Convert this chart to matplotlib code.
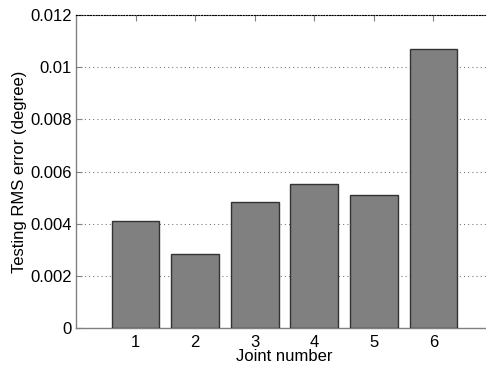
import matplotlib
matplotlib.use("Agg")
import matplotlib.pyplot as plt

joints = [1, 2, 3, 4, 5, 6]
rms_error = [0.00410, 0.00284, 0.00483, 0.00552, 0.00511, 0.01068]
yticks = [0, 0.002, 0.004, 0.006, 0.008, 0.010, 0.012]
ytick_labels = ["0", "0.002", "0.004", "0.006", "0.008", "0.01", "0.012"]

plt.rcParams['font.family'] = ['Liberation Sans', 'DejaVu Sans']

fig = plt.figure(figsize=(4.86, 3.67), dpi=100)
W, H = 486, 367
ax = fig.add_axes([76 / W, (H - 328) / H, 417 / W, 313 / H])

ax.bar(joints, rms_error, width=0.8, color="#808080", edgecolor="#333333", linewidth=1.0, zorder=3)

ax.set_xlim(0, 7)
ax.set_ylim(0, 0.012)
ax.set_xticks(joints)
ax.set_yticks(yticks)
ax.set_yticklabels(ytick_labels)
ax.yaxis.grid(True, linestyle=(0, (1, 3)), color="#707070", linewidth=0.75, zorder=0)
ax.set_axisbelow(True)

for s in ["right"]:
    ax.spines[s].set_visible(False)
ax.spines["top"].set_linestyle((0, (1, 1.5)))
ax.spines["top"].set_color("#000000")
ax.spines["top"].set_linewidth(0.8)
for s in ["left", "bottom"]:
    ax.spines[s].set_color("#808080")
    ax.spines[s].set_linewidth(1.0)

ax.tick_params(axis="both", direction="in", length=4, color="#808080", labelsize=12, labelcolor="black", top=True, right=False)
ax.tick_params(axis="x", pad=5)
ax.tick_params(axis="y", pad=3)

ax.set_xlabel("Joint number", fontsize=12, labelpad=-1)
ax.set_ylabel("Testing RMS error (degree)", fontsize=12, labelpad=2)

fig.savefig("out.png", dpi=100)
